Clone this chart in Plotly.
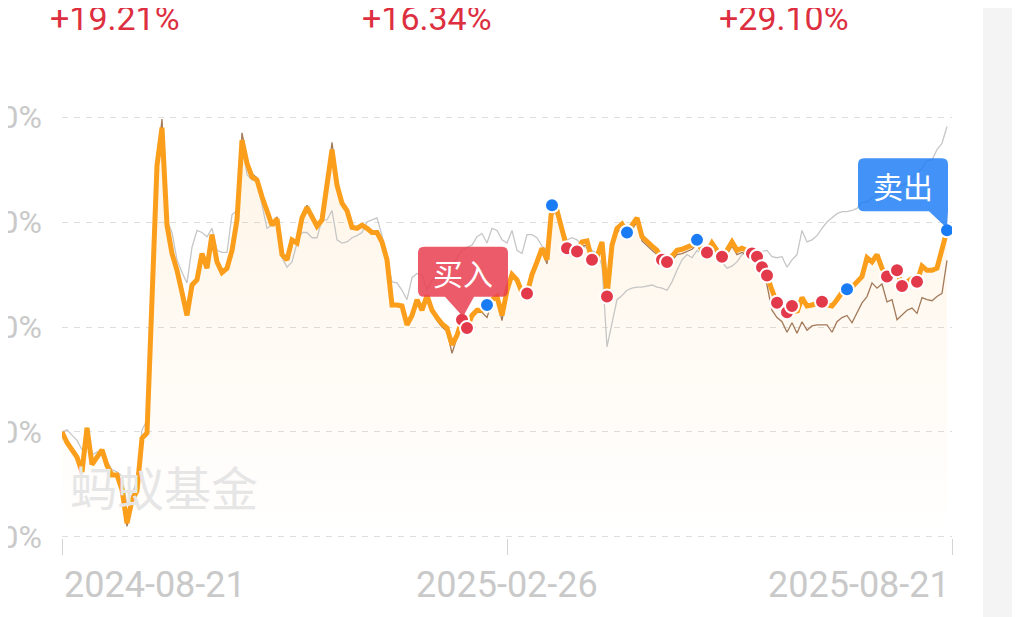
import plotly.graph_objects as go

# cumulative return (%) per trading day
fund = [
    0.0, -1.0, -1.7, -2.4, -3.8, 0.4, -3.1, -2.3, -1.7, -3.2,
    -4.1, -4.1, -5.5, -8.7, -6.5, -5.6, -0.6, -0.1, 14.3, 25.4,
    29.0, 19.7, 17.0, 15.4, 13.3, 11.1, 14.0, 14.5, 17.0, 15.6,
    18.8, 16.2, 15.2, 15.6, 17.3, 20.2, 27.8, 25.6, 24.3, 24.0,
    22.4, 20.9, 19.7, 20.3, 16.9, 16.4, 18.3, 18.0, 20.4, 21.4,
    20.4, 19.6, 20.2, 23.5, 26.9, 23.5, 21.8, 21.1, 19.5, 19.4,
    19.7, 19.4, 19.0, 19.0, 18.1, 16.4, 12.1, 12.1, 12.0, 10.2,
    11.1, 12.6, 11.6, 13.0, 11.6, 10.9, 10.3, 9.9, 8.3, 9.2,
    10.7, 9.9, 11.1, 11.6, 11.6, 12.1, 12.6, 12.9, 11.1, 13.5,
    15.0, 14.5, 13.3, 13.2, 15.0, 16.2, 17.5, 16.4, 21.6, 21.1,
    19.2, 17.5, 17.1, 17.2, 18.1, 18.2, 16.4, 16.7, 18.1, 12.9,
    17.8, 19.4, 19.8, 19.0, 19.7, 20.4, 18.6, 18.1, 17.7, 17.3,
    16.4, 16.2, 16.8, 17.3, 17.4, 17.6, 17.8, 18.3, 17.3, 17.1,
    18.0, 17.3, 16.7, 17.3, 18.1, 17.3, 17.5, 17.3, 17.0, 16.7,
    15.7, 14.9, 13.5, 12.3, 11.6, 11.4, 12.0, 11.4, 12.8, 12.0,
    12.1, 12.3, 12.4, 12.1, 12.0, 12.6, 13.3, 13.6, 13.8, 14.3,
    14.8, 16.6, 16.2, 16.9, 15.6, 14.8, 15.0, 15.4, 13.9, 14.3,
    14.6, 14.3, 15.8, 15.4, 15.4, 15.6, 17.3, 19.21,
]

peer = [
    0.0, -1.0, -1.7, -2.4, -3.8, 0.4, -3.1, -2.3, -1.7, -3.2,
    -4.1, -4.1, -5.5, -9.0, -6.5, -5.6, -0.6, -0.1, 14.3, 25.4,
    29.8, 19.9, 17.2, 15.4, 13.3, 11.1, 14.0, 14.5, 17.0, 15.6,
    18.8, 16.2, 15.2, 15.6, 17.3, 20.2, 28.5, 26.0, 24.6, 24.2,
    22.4, 20.9, 19.7, 20.5, 16.9, 16.4, 18.3, 18.0, 20.6, 21.6,
    20.4, 19.6, 20.2, 23.5, 27.6, 24.0, 22.0, 21.1, 19.5, 19.4,
    19.7, 19.4, 19.0, 19.0, 18.1, 16.4, 12.1, 12.1, 12.0, 10.2,
    11.1, 12.6, 11.6, 13.0, 11.6, 10.6, 10.0, 9.6, 7.5, 9.0,
    10.5, 9.7, 10.9, 11.4, 11.4, 10.9, 12.4, 12.7, 10.6, 13.3,
    14.8, 14.3, 13.1, 13.0, 14.8, 16.0, 17.3, 16.0, 21.4, 20.9,
    18.8, 17.1, 16.7, 16.8, 17.7, 17.8, 16.0, 16.3, 17.7, 12.5,
    17.4, 19.0, 19.4, 18.6, 19.3, 20.0, 18.2, 17.7, 17.3, 16.9,
    16.0, 15.8, 16.4, 16.9, 17.0, 17.2, 17.4, 17.9, 16.9, 16.7,
    17.6, 16.9, 16.3, 16.9, 17.7, 16.9, 17.1, 16.9, 16.6, 16.3,
    15.6, 14.0, 11.6, 10.9, 10.5, 9.5, 10.4, 9.4, 10.5, 9.7,
    10.1, 10.2, 10.2, 10.2, 9.5, 10.5, 10.9, 11.1, 10.4, 11.4,
    12.3, 12.9, 14.2, 13.7, 14.1, 12.4, 12.6, 10.7, 11.2, 11.6,
    11.8, 11.3, 12.8, 12.6, 12.5, 12.9, 13.2, 16.34,
]

index_ret = [
    0.0, 0.2, -0.3, -0.8, -1.7, -0.8, -2.2, -1.9, -1.9, -2.7,
    -3.6, -3.8, -4.2, -7.0, -6.0, -4.6, 0.2, 1.1, 13.5, 24.5,
    29.2, 20.2, 19.0, 16.4, 15.2, 14.2, 17.6, 19.2, 19.0, 18.6,
    19.4, 17.3, 17.1, 17.1, 20.7, 21.1, 27.6, 24.5, 24.0, 24.0,
    21.6, 19.4, 19.7, 20.2, 16.6, 15.7, 16.2, 18.0, 19.0, 19.0,
    18.5, 18.5, 20.2, 20.2, 21.1, 18.3, 18.0, 18.1, 18.5, 18.7,
    19.0, 20.0, 20.2, 20.4, 18.7, 16.4, 14.3, 14.2, 13.5, 12.6,
    14.7, 15.1, 15.0, 13.5, 14.5, 14.8, 15.0, 15.1, 15.6, 16.6,
    17.3, 17.6, 17.8, 18.6, 18.9, 18.0, 19.4, 19.2, 18.3, 18.0,
    19.2, 17.3, 17.0, 18.8, 18.8, 18.5, 17.7, 17.3, 20.7, 20.9,
    19.2, 18.3, 18.5, 18.3, 17.8, 17.5, 17.3, 17.0, 15.9, 8.1,
    10.5, 12.6, 13.0, 13.5, 13.7, 13.8, 13.8, 13.9, 14.0, 13.8,
    13.7, 13.5, 14.3, 15.4, 16.4, 16.9, 16.6, 17.3, 16.9, 16.6,
    16.9, 17.0, 16.2, 15.6, 15.8, 16.2, 16.9, 17.1, 17.3, 17.1,
    17.2, 17.3, 16.7, 16.6, 16.7, 15.7, 16.4, 16.9, 19.2, 18.1,
    18.3, 18.7, 19.4, 20.0, 20.4, 20.8, 21.0, 21.0, 21.1, 21.3,
    21.9, 21.9, 22.3, 22.6, 22.9, 23.0, 23.3, 23.4, 23.5, 23.7,
    24.2, 24.6, 25.1, 25.9, 25.9, 26.9, 27.5, 29.1,
]

buy_days = [80, 81, 93, 101, 103, 106, 109, 120, 121, 129, 132, 138, 139,
            140, 141, 143, 145, 146, 152, 165, 167, 168, 171]
sell_days = [85, 98, 113, 127, 157, 177]

tick_days = [0, 89, 178]
tick_text = ["2024-08-21", "2025-02-26", "2025-08-21"]
y_ticks = [-10, 0, 10, 20, 30]
y_tick_text = [f"{v}%" for v in y_ticks]

days = list(range(len(fund)))

# page layout (window pixels); the page body adds an 8px offset
OFF = 8
WIN_W, WIN_H = 1020, 617
W, H = WIN_W - OFF, WIN_H - OFF
X_MAX = 178
Y_LO, Y_HI = -10.1, 30.1
PLOT_L, PLOT_R, PLOT_T, PLOT_B = 62, 952, 116, 538
PX_X = (PLOT_R - PLOT_L) / X_MAX
PX_Y = (PLOT_B - PLOT_T) / (Y_HI - Y_LO)

ORANGE = "#fa9e1b"
RED = "#e23a4b"
BLUE = "#1a7cf5"
LABEL = "#c9c9c9"


def paper_x(px):
    return (px - PLOT_L) / (PLOT_R - PLOT_L)


def paper_y(py):
    return (PLOT_B - py) / (PLOT_B - PLOT_T)


def callout_path(day, val, left, right, top, bottom, tip, r=6):
    # offsets in screen pixels relative to the anchored point
    def p(dx, dy):
        return f"{day + dx / PX_X:.3f},{val - dy / PX_Y:.3f}"
    t0, apex, t1 = tip
    d = f"M{p(left + r, top)} L{p(right - r, top)} Q{p(right, top)} {p(right, top + r)} "
    if t1[0] >= right - r:
        d += f"L{p(right, bottom)} "
    else:
        d += f"L{p(right, bottom - r)} Q{p(right, bottom)} {p(right - r, bottom)} "
        d += f"L{p(*t1)} "
    d += f"L{p(*apex)} L{p(*t0)} "
    d += f"L{p(left + r, bottom)} Q{p(left, bottom)} {p(left, bottom - r)} "
    d += f"L{p(left, top + r)} Q{p(left, top)} {p(left + r, top)} Z"
    return d


fig = go.Figure()

# area under the fund line, down to the bottom of the chart
fig.add_trace(go.Scatter(x=days, y=[y_ticks[0]] * len(days), mode="lines",
                         line=dict(width=0), hoverinfo="skip", showlegend=False))
fig.add_trace(go.Scatter(
    x=days, y=fund, mode="lines", line=dict(width=0), fill="tonexty",
    fillgradient=dict(type="vertical", colorscale=[[0, "rgba(250,158,27,0.0)"],
                                                   [1, "rgba(250,158,27,0.11)"]]),
    hoverinfo="skip", showlegend=False))

fig.add_trace(go.Scatter(x=days, y=index_ret, mode="lines",
                         line=dict(color="#c6c6c6", width=1.3), showlegend=False))
fig.add_trace(go.Scatter(x=days, y=peer, mode="lines",
                         line=dict(color="#a27a5a", width=1.3), showlegend=False))
fig.add_trace(go.Scatter(x=days, y=fund, mode="lines",
                         line=dict(color=ORANGE, width=5), showlegend=False))

fig.add_trace(go.Scatter(
    x=buy_days, y=[fund[d] for d in buy_days], mode="markers",
    marker=dict(color=RED, size=14, line=dict(color="white", width=2)), showlegend=False))
fig.add_trace(go.Scatter(
    x=sell_days, y=[fund[d] for d in sell_days], mode="markers",
    marker=dict(color=BLUE, size=14, line=dict(color="white", width=2)), showlegend=False))

# buy / sell callouts
b_day = buy_days[0]
s_day = sell_days[-1]
fig.add_shape(type="path", xref="x", yref="y", line=dict(width=0),
              fillcolor="rgba(233,62,80,0.85)",
              path=callout_path(b_day, fund[b_day], -44, 46, -73, -23,
                                [(-17, -23), (1, -3), (12, -23)]))
fig.add_shape(type="path", xref="x", yref="y", line=dict(width=0),
              fillcolor="rgba(30,125,245,0.84)",
              path=callout_path(s_day, fund[s_day], -89, 1, -72, -19,
                                [(-18, -19), (0, -2), (1, -19)]))
fig.add_annotation(x=b_day + 1 / PX_X, y=fund[b_day] + 48 / PX_Y, text="买入",
                   showarrow=False, font=dict(family="Noto Sans CJK SC", size=30, color="white"))
fig.add_annotation(x=s_day - 44 / PX_X, y=fund[s_day] + 45 / PX_Y, text="卖出",
                   showarrow=False, font=dict(family="Noto Sans CJK SC", size=30, color="white"))

# watermark
fig.add_annotation(xref="paper", yref="paper", x=paper_x(68), y=paper_y(485),
                   xanchor="left", yanchor="middle", text="蚂蚁基金", showarrow=False,
                   font=dict(family="Noto Sans CJK SC", size=47, color="#e6e6e6"))

# return figures on top
for val, px in zip([fund[-1], peer[-1], index_ret[-1]], [48, 360, 717]):
    fig.add_annotation(xref="paper", yref="paper", x=paper_x(px), y=paper_y(18),
                       xanchor="left", yanchor="middle", text=f"{val:+.2f}%",
                       showarrow=False, font=dict(family="Roboto", size=34, color="#dd2f3f"))

# date labels under the axis
for d, txt, anchor in zip(tick_days, tick_text, ["left", "center", "right"]):
    fig.add_annotation(xref="x", yref="paper", x=d, y=paper_y(585), xanchor=anchor,
                       yanchor="middle", text=txt, showarrow=False,
                       font=dict(family="Roboto", size=36, color=LABEL))

# grey strip on the right edge of the screenshot
fig.add_shape(type="rect", xref="paper", yref="paper", x0=paper_x(983), x1=paper_x(WIN_W + 20),
              y0=paper_y(WIN_H + 20), y1=paper_y(-20), line=dict(width=0),
              fillcolor="#f4f4f4", layer="below")

fig.update_layout(
    width=W, height=H,
    margin=dict(l=PLOT_L - OFF, r=W - (PLOT_R - OFF), t=PLOT_T - OFF, b=H - (PLOT_B - OFF)),
    paper_bgcolor="white", plot_bgcolor="rgba(0,0,0,0)",
    showlegend=False,
    xaxis=dict(range=[0, X_MAX], tickvals=tick_days, showticklabels=False,
               ticks="outside", ticklen=16, tickcolor="#d4d4d4", tickwidth=1,
               showgrid=False, zeroline=False, showline=False, automargin=False),
    yaxis=dict(range=[Y_LO, Y_HI], tickvals=y_ticks, ticktext=y_tick_text, ticks="",
               tickfont=dict(family="Roboto", size=32, color=LABEL),
               ticklabelstandoff=19,
               showgrid=True, gridcolor="#dedede", griddash="6px,6px", gridwidth=1,
               zeroline=False, showline=False, automargin=False),
)

fig.write_html("out.html")
